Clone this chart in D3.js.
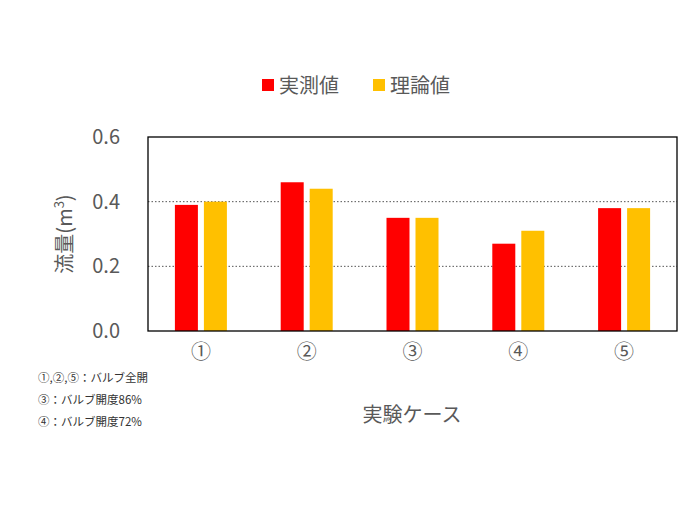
<!DOCTYPE html><html><head><meta charset="utf-8"><script src="https://cdn.jsdelivr.net/npm/d3@7"></script>
<style>body{margin:0;background:#fff}text{font-family:"Noto Sans CJK JP",sans-serif}</style></head><body><svg id="c" width="700" height="525"></svg>
<script>
const categories=["①","②","③","④","⑤"];
const measured=[0.39,0.46,0.35,0.27,0.38];
const theory=[0.40,0.44,0.35,0.31,0.38];
const yTicks=[0.0,0.2,0.4,0.6];
const seriesNames=["実測値","理論値"];
const colors=["#ff0000","#ffc000"];
const notes=["①,②,⑤：バルブ全開","③：バルブ開度86%","④：バルブ開度72%"];
const svg=d3.select("#c");
const L=148,R=677,T=137,B=331;
const x=d3.scaleBand().domain(categories).range([L,R]);
const y=d3.scaleLinear().domain([0,0.6]).range([B,T]);
const g=svg.append("g");
[0.2,0.4].forEach(v=>g.append("line").attr("x1",L).attr("x2",R).attr("y1",y(v)).attr("y2",y(v)).attr("stroke","#555").attr("stroke-dasharray","1.5,2"));
const bw=23;
[measured,theory].forEach((s,si)=>{
 g.selectAll(null).data(s).enter().append("rect")
  .attr("x",(d,i)=>x(categories[i])+x.bandwidth()/2+(si===0?-bw-3:3))
  .attr("y",d=>y(d)).attr("width",bw).attr("height",d=>B-y(d)).attr("fill",colors[si]);
});
g.append("rect").attr("x",L).attr("y",T).attr("width",R-L).attr("height",B-T).attr("fill","none").attr("stroke","#000").attr("stroke-width",1.3);
const ya=svg.append("g").attr("transform",`translate(${L},0)`).call(d3.axisLeft(y).tickValues(yTicks).tickFormat(d3.format(".1f")).tickSize(0).tickPadding(28));
ya.select(".domain").remove();
ya.selectAll("text").attr("font-size",20).attr("fill","#595959");
const xa=svg.append("g").attr("transform",`translate(0,${B})`).call(d3.axisBottom(x).tickSize(0).tickPadding(14));
xa.select(".domain").remove();
xa.selectAll("text").attr("font-size",20).attr("fill","#595959");
svg.append("text").attr("transform","translate(72,234) rotate(-90)").attr("text-anchor","middle").attr("font-size",20).attr("fill","#595959")
 .html('流量(m<tspan dy="-8" font-size="13">3</tspan><tspan dy="8">)</tspan>');
svg.append("text").attr("x",412).attr("y",422).attr("text-anchor","middle").attr("font-size",20).attr("fill","#595959").text("実験ケース");
const lg=svg.append("g");
seriesNames.forEach((n,i)=>{const ox=262+i*111;
 lg.append("rect").attr("x",ox).attr("y",79).attr("width",12).attr("height",12).attr("fill",colors[i]);
 lg.append("text").attr("x",ox+17).attr("y",93).attr("font-size",20).attr("fill","#595959").text(n);});
notes.forEach((n,i)=>svg.append("text").attr("x",38).attr("y",382+i*22).attr("font-size",11.5).attr("fill","#333").text(n));
</script></body></html>
